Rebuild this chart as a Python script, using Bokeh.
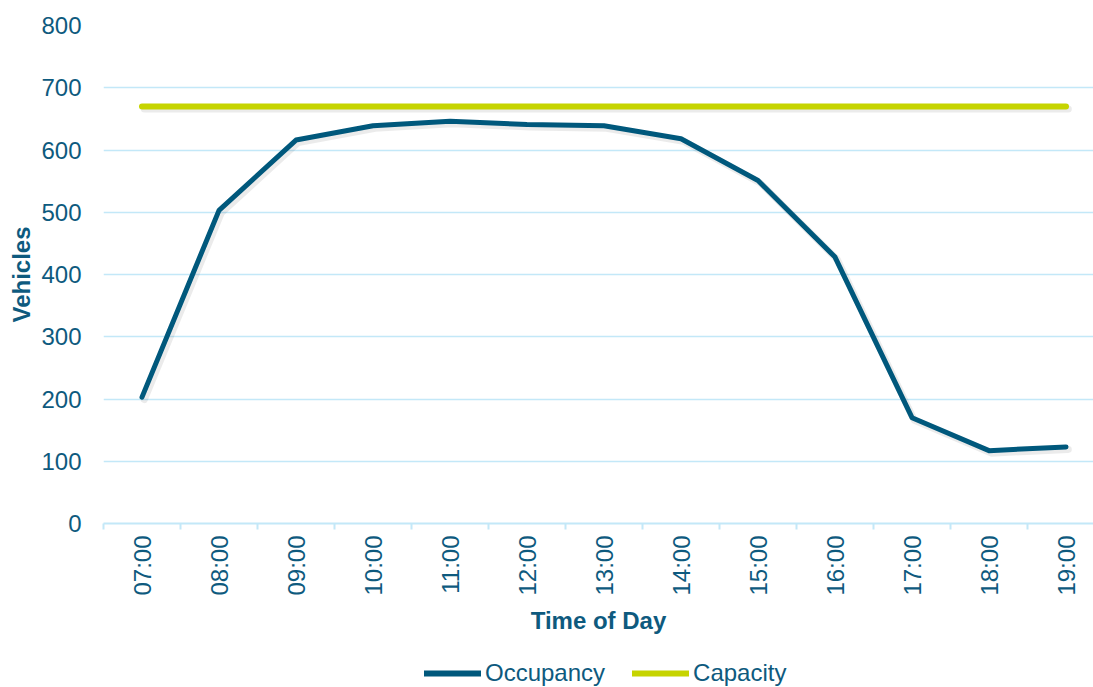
import math

from bokeh.plotting import figure
from bokeh.layouts import column
from bokeh.models import ColumnDataSource, Range1d, FixedTicker, Legend, LegendItem
from bokeh.transform import dodge
from bokeh.embed import file_html
from bokeh.resources import INLINE

# Hourly parking occupancy against the car park's capacity
hours = ["07:00", "08:00", "09:00", "10:00", "11:00", "12:00", "13:00",
         "14:00", "15:00", "16:00", "17:00", "18:00", "19:00"]
occupancy = [203, 503, 616, 639, 646, 641, 639, 618, 551, 428, 170, 117, 123]
capacity = [670, 670, 670, 670, 670, 670, 670, 670, 670, 670, 670, 670, 670]
y_ticks = [0, 100, 200, 300, 400, 500, 600, 700, 800]

TEXT = "#0E5A7E"
GRID = "#C3E8F8"
OCC = "#00587C"
CAP = "#C6D400"
FONT = "Liberation Sans"
FS = "24px"

idx = list(range(len(hours)))
source = ColumnDataSource(dict(x=idx, hour=hours, occupancy=occupancy, capacity=capacity))

p = figure(width=1093, height=650, output_backend="svg", toolbar_location=None,
           x_range=Range1d(-0.5, 12.357), y_range=Range1d(0, 800))
p.min_border_left = 103
p.min_border_right = 0
p.min_border_top = 25
p.min_border_bottom = 127
p.outline_line_color = None
p.background_fill_color = "white"
p.border_fill_color = "white"

# Horizontal grid only
p.xgrid.grid_line_color = None
p.ygrid.grid_line_color = GRID
p.ygrid.grid_line_width = 1.5

# Y axis: labels only
p.yaxis.ticker = FixedTicker(ticks=y_ticks)
p.yaxis.axis_line_color = None
p.yaxis.major_tick_line_color = None
p.yaxis.minor_tick_line_color = None
p.yaxis.major_label_standoff = 16
p.yaxis.major_label_text_font = FONT
p.yaxis.major_label_text_font_size = FS
p.yaxis.major_label_text_color = TEXT
p.yaxis.axis_label = "Vehicles"
p.yaxis.axis_label_text_font = FONT
p.yaxis.axis_label_text_font_style = "bold"
p.yaxis.axis_label_text_font_size = FS
p.yaxis.axis_label_text_color = TEXT
p.yaxis.axis_label_standoff = 3

# X axis: category labels at centres, tick marks on category boundaries
p.xaxis.ticker = FixedTicker(ticks=idx, minor_ticks=[i - 0.5 for i in range(len(hours) + 1)])
p.xaxis.major_label_overrides = {i: h for i, h in enumerate(hours)}
p.xaxis.major_label_orientation = math.pi / 2
p.xaxis.axis_line_color = GRID
p.xaxis.axis_line_width = 2
p.xaxis.major_tick_line_color = None
p.xaxis.major_tick_out = 0
p.xaxis.major_tick_in = 0
p.xaxis.minor_tick_line_color = GRID
p.xaxis.minor_tick_line_width = 2
p.xaxis.minor_tick_out = 6
p.xaxis.minor_tick_in = 0
p.xaxis.major_label_standoff = 6
p.xaxis.major_label_text_font = FONT
p.xaxis.major_label_text_font_size = FS
p.xaxis.major_label_text_color = TEXT
p.xaxis.axis_label = "Time of Day"
p.xaxis.axis_label_text_font = FONT
p.xaxis.axis_label_text_font_style = "bold"
p.xaxis.axis_label_text_font_size = FS
p.xaxis.axis_label_text_color = TEXT
p.xaxis.axis_label_standoff = 8

# Soft drop shadows under both lines
for col in ("capacity", "occupancy"):
    p.line(x=dodge("x", 0.03, range=p.x_range), y=dodge(col, -4, range=p.y_range),
           source=source, line_color="black", line_alpha=0.08, line_width=7,
           line_cap="round", line_join="round")

p.line("x", "capacity", source=source, line_color=CAP, line_width=6,
       line_cap="round", line_join="round")
p.line("x", "occupancy", source=source, line_color=OCC, line_width=5,
       line_cap="round", line_join="round")

# Legend strip underneath the chart; its key lines sit outside the visible range
leg = figure(width=1093, height=37, output_backend="svg", toolbar_location=None,
             x_axis_type=None, y_axis_type=None,
             x_range=Range1d(0, 1), y_range=Range1d(0, 1))
leg.min_border_left = 0
leg.min_border_right = 0
leg.min_border_top = 0
leg.min_border_bottom = 0
leg.outline_line_color = None
occ_key = leg.line(x=[5, 6], y=[5, 6], line_color=OCC, line_width=6, line_cap="round")
cap_key = leg.line(x=[5, 6], y=[5, 6], line_color=CAP, line_width=6, line_cap="round")

legend = Legend(items=[LegendItem(label="Occupancy", renderers=[occ_key]),
                       LegendItem(label="Capacity", renderers=[cap_key])],
                orientation="horizontal", location=(321, 0))
legend.padding = 0
legend.margin = 0
legend.spacing = 27
legend.label_standoff = 4
legend.glyph_width = 57
legend.glyph_height = 26
legend.border_line_color = None
legend.background_fill_alpha = 0
legend.label_text_font = FONT
legend.label_text_font_size = FS
legend.label_text_color = TEXT
leg.add_layout(legend)

layout = column(p, leg, spacing=0)
open("out.html", "w").write(file_html(layout, INLINE))
